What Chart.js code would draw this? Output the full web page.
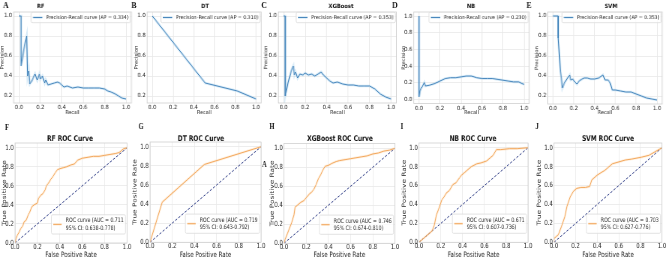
<!DOCTYPE html>
<html>
<head>
<meta charset="utf-8">
<script src="https://cdn.jsdelivr.net/npm/chart.js@4.4.1/dist/chart.umd.min.js"></script>
<style>
  html, body { margin: 0; padding: 0; background: #fff; }
  #fig { position: relative; width: 669px; height: 257px; overflow: hidden; background: #fff; }
  #fig canvas { position: absolute; left: 0; top: 0; transform-origin: 0 0; }
</style>
</head>
<body>
<div id="fig"></div>
<script>
// ---- values ----
const models = ['RF', 'DT', 'XGBoost', 'NB', 'SVM'];
const apScores = ['0.334', '0.310', '0.353', '0.230', '0.353'];
const aucScores = ['0.711', '0.719', '0.746', '0.671', '0.703'];
const aucCI = ['0.638-0.778', '0.643-0.792', '0.674-0.810', '0.607-0.736', '0.627-0.776'];

const unitTicks = [0, 0.2, 0.4, 0.6, 0.8, 1.0];
const prTicks = [0.2, 0.4, 0.6, 0.8, 1.0];
const chanceLine = [0, 1];

// precision-recall curves
const rfRecall     = [0, 0.02, 0.02, 0.045, 0.072, 0.081, 0.09, 0.10, 0.12, 0.15, 0.17, 0.19, 0.20, 0.22, 0.24, 0.25, 0.27, 0.30, 0.33, 0.36, 0.38, 0.40, 0.42, 0.45, 0.50, 0.55, 0.60, 0.65, 0.70, 0.75, 0.80, 0.83, 0.86, 0.90, 0.93, 0.96, 1.0];
const rfPrecision  = [1.0, 1.0, 0.50, 0.66, 0.80, 0.40, 0.45, 0.32, 0.35, 0.42, 0.36, 0.42, 0.37, 0.40, 0.33, 0.36, 0.31, 0.32, 0.33, 0.34, 0.33, 0.31, 0.29, 0.30, 0.28, 0.29, 0.28, 0.28, 0.28, 0.28, 0.27, 0.25, 0.24, 0.22, 0.20, 0.18, 0.17];
const dtRecall     = [0, 0.51, 0.82, 1.0];
const dtPrecision  = [1.0, 0.33, 0.25, 0.17];
const xgbRecall    = [0, 0.015, 0.015, 0.04, 0.07, 0.09, 0.10, 0.11, 0.13, 0.15, 0.18, 0.20, 0.23, 0.26, 0.29, 0.32, 0.35, 0.37, 0.40, 0.43, 0.46, 0.50, 0.55, 0.60, 0.65, 0.70, 0.75, 0.80, 0.85, 0.90, 0.95, 1.0];
const xgbPrecision = [1.0, 1.0, 0.20, 0.33, 0.45, 0.50, 0.41, 0.44, 0.38, 0.42, 0.41, 0.43, 0.41, 0.42, 0.40, 0.42, 0.44, 0.41, 0.38, 0.35, 0.33, 0.34, 0.32, 0.31, 0.31, 0.30, 0.30, 0.30, 0.27, 0.22, 0.19, 0.17];
const nbRecall     = [0, 0, 0.01, 0.02, 0.03, 0.05, 0.06, 0.10, 0.15, 0.20, 0.25, 0.30, 0.35, 0.40, 0.45, 0.50, 0.55, 0.60, 0.65, 0.70, 0.75, 0.80, 0.85, 0.90, 0.95, 0.98, 1.0];
const nbPrecision  = [1.0, 0.03, 0.10, 0.13, 0.15, 0.20, 0.16, 0.17, 0.19, 0.22, 0.25, 0.26, 0.26, 0.27, 0.28, 0.28, 0.26, 0.25, 0.25, 0.25, 0.24, 0.23, 0.22, 0.21, 0.21, 0.19, 0.18];
const svmRecall    = [0, 0.05, 0.05, 0.06, 0.07, 0.08, 0.09, 0.11, 0.14, 0.16, 0.17, 0.19, 0.21, 0.23, 0.25, 0.28, 0.30, 0.33, 0.36, 0.40, 0.44, 0.48, 0.50, 0.53, 0.55, 0.57, 0.60, 0.65, 0.70, 0.75, 0.80, 0.85, 0.90, 0.95, 1.0];
const svmPrecision = [1.0, 1.0, 0.78, 0.62, 0.45, 0.38, 0.28, 0.33, 0.38, 0.41, 0.36, 0.37, 0.34, 0.32, 0.35, 0.37, 0.38, 0.38, 0.37, 0.37, 0.38, 0.41, 0.36, 0.36, 0.33, 0.26, 0.26, 0.25, 0.24, 0.24, 0.22, 0.20, 0.18, 0.17, 0.16];

// ROC curves
const rfFpr  = [0, 0.01, 0.02, 0.04, 0.05, 0.07, 0.08, 0.10, 0.12, 0.13, 0.15, 0.17, 0.20, 0.21, 0.23, 0.25, 0.27, 0.28, 0.30, 0.32, 0.34, 0.36, 0.38, 0.40, 0.43, 0.46, 0.50, 0.53, 0.56, 0.60, 0.65, 0.70, 0.75, 0.80, 0.85, 0.90, 0.93, 0.95, 0.97, 1.0];
const rfTpr  = [0, 0.05, 0.08, 0.12, 0.15, 0.18, 0.22, 0.24, 0.30, 0.32, 0.38, 0.40, 0.42, 0.47, 0.50, 0.52, 0.56, 0.60, 0.63, 0.67, 0.70, 0.74, 0.77, 0.78, 0.79, 0.80, 0.82, 0.83, 0.87, 0.89, 0.90, 0.91, 0.91, 0.92, 0.93, 0.94, 0.95, 0.97, 0.99, 1.0];
const dtFpr  = [0, 0.11, 0.49, 1.0];
const dtTpr  = [0, 0.42, 0.815, 1.0];
const xgbFpr = [0, 0.01, 0.03, 0.05, 0.07, 0.09, 0.10, 0.12, 0.15, 0.18, 0.20, 0.23, 0.25, 0.27, 0.29, 0.31, 0.33, 0.35, 0.37, 0.40, 0.43, 0.47, 0.50, 0.55, 0.60, 0.65, 0.70, 0.75, 0.80, 0.85, 0.90, 0.95, 1.0];
const xgbTpr = [0, 0.04, 0.10, 0.16, 0.22, 0.30, 0.38, 0.40, 0.43, 0.45, 0.48, 0.52, 0.54, 0.57, 0.62, 0.68, 0.72, 0.77, 0.81, 0.82, 0.84, 0.86, 0.87, 0.88, 0.89, 0.90, 0.91, 0.92, 0.94, 0.95, 0.97, 0.98, 1.0];
const nbFpr  = [0, 0.03, 0.06, 0.09, 0.12, 0.14, 0.16, 0.18, 0.21, 0.23, 0.25, 0.28, 0.31, 0.34, 0.37, 0.39, 0.42, 0.44, 0.48, 0.53, 0.57, 0.62, 0.65, 0.68, 0.71, 0.75, 0.83, 0.90, 1.0];
const nbTpr  = [0, 0.03, 0.06, 0.09, 0.12, 0.18, 0.29, 0.35, 0.45, 0.48, 0.52, 0.55, 0.61, 0.63, 0.68, 0.71, 0.74, 0.76, 0.80, 0.83, 0.84, 0.86, 0.89, 0.92, 0.98, 0.98, 0.99, 0.99, 1.0];
const svmFpr = [0, 0, 0.02, 0.04, 0.07, 0.10, 0.12, 0.15, 0.18, 0.21, 0.25, 0.29, 0.33, 0.35, 0.40, 0.44, 0.47, 0.50, 0.54, 0.60, 0.66, 0.72, 0.81, 0.88, 0.94, 1.0];
const svmTpr = [0, 0.04, 0.06, 0.08, 0.17, 0.27, 0.38, 0.48, 0.54, 0.57, 0.58, 0.58, 0.59, 0.66, 0.71, 0.74, 0.76, 0.79, 0.83, 0.85, 0.87, 0.88, 0.90, 0.92, 0.96, 1.0];

const prSeries = [[rfRecall, rfPrecision], [dtRecall, dtPrecision], [xgbRecall, xgbPrecision], [nbRecall, nbPrecision], [svmRecall, svmPrecision]];
const rocSeries = [[rfFpr, rfTpr], [dtFpr, dtTpr], [xgbFpr, xgbTpr], [nbFpr, nbTpr], [svmFpr, svmTpr]];

// ---- layout (page pixels) ----
const FIG_W = 669, CANVAS_H = 266;
const FONT = '"DejaVu Sans", sans-serif';
const TXT = '#262626';

// the panels in the source are squeezed sideways, so each row is drawn wide and scaled in x
const TOP = { s: 0.9, tickSize: 5.7, labSize: 5.4, titleSize: 5.8, legendSize: 5.2, letterSize: 8.5,
  titleY: 6.7, xLabY: 113, tickPadX: 1.3, tickPadY: 1.5, inset: [1, 0.3], corner: 'tr', handle: 2, gap: 0.8, spacing: 1.2,
  xTitle: 'Recall', yTitle: 'Precision', line: '#4a88bd', band: 'rgba(130,190,230,0.3)', chance: false };
const BOTTOM = { s: 0.75, tickSize: 7.2, labSize: 7.4, titleSize: 7.9, legendSize: 6.2, letterSize: 8.5,
  titleY: 139, xLabY: 255, tickPadX: 0, tickPadY: 1.2, inset: [1.5, 9], corner: 'br', handle: 1.8, gap: 0.9, spacing: 1.15,
  xTitle: 'False Positive Rate', yTitle: 'True Positive Rate', line: '#f3a85e', band: 'rgba(250,195,130,0.25)', chance: true };

const topPanels = [
  { box: [13.6, 12, 131.4, 103], yRange: [0.13, 1.04], yTicks: prTicks, yLabX: 2.7, titleX: 40.7, letter: ['A', 6, 6] },
  { box: [147.1, 12, 261.2, 103], yRange: [0.13, 1.04], yTicks: prTicks, yLabX: 136.7, titleX: 205, letter: ['B', 134, 6] },
  { box: [278.3, 12, 396.4, 103], yRange: [0.13, 1.04], yTicks: prTicks, yLabX: 265.7, titleX: 341, letter: ['C', 264, 6] },
  { box: [413.75, 12, 529.25, 103.5], yRange: [-0.05, 1.05], yTicks: unitTicks, yLabX: 403.3, titleX: 471, letter: ['D', 395, 6] },
  { box: [547.8, 12, 662.2, 104], yRange: [0.12, 1.04], yTicks: prTicks, yLabX: 536.7, titleX: 611, letter: ['E', 529, 6] }
];
const bottomPanels = [
  { box: [15, 143, 127, 243], yLabX: 4.7, titleX: 70, letter: ['F', 7, 128] },
  { box: [150, 142, 261, 242.3], yLabX: 135, titleX: 201, letter: ['G', 141, 127] },
  { box: [284, 143.5, 395, 243.3], yLabX: 272, titleX: 340, letter: ['H', 272, 127], extra: ['A', 264.5, 165] },
  { box: [419, 143, 528, 242.3], yLabX: 404, titleX: 473, letter: ['I', 402, 127] },
  { box: [554, 143, 662, 242.3], yLabX: 539, titleX: 608, letter: ['J', 537, 127] }
];

const fig = document.getElementById('fig');

function drawLegend(ctx, a, lg, s) {
  const fs = lg.size;
  ctx.font = fs + 'px ' + FONT;
  const tw = Math.max(...lg.lines.map(t => ctx.measureText(t).width));
  const bp = 0.4 * fs, hl = lg.handle * fs, gap = lg.gap * fs, lh = lg.spacing * fs;
  const w = 2 * bp + hl + gap + tw, h = 2 * bp + lg.lines.length * lh;
  const x = a.right - lg.inset[0] / s - w;
  const y = lg.corner === 'tr' ? a.top + lg.inset[1] : a.bottom - lg.inset[1] - h;
  ctx.fillStyle = 'rgba(255,255,255,0.8)';
  ctx.strokeStyle = '#dadada';
  ctx.lineWidth = 0.8;
  ctx.beginPath();
  if (ctx.roundRect) ctx.roundRect(x, y, w, h, 1.5); else ctx.rect(x, y, w, h);
  ctx.fill();
  ctx.stroke();
  const cy = y + h / 2;
  [[lg.band, 2.6], [lg.line, 1]].forEach(([c, lw]) => {
    ctx.strokeStyle = c;
    ctx.lineWidth = lw;
    ctx.beginPath();
    ctx.moveTo(x + bp, cy);
    ctx.lineTo(x + bp + hl, cy);
    ctx.stroke();
  });
  ctx.fillStyle = TXT;
  ctx.textAlign = 'left';
  ctx.textBaseline = 'middle';
  lg.lines.forEach((t, i) => ctx.fillText(t, x + bp + hl + gap, y + bp + lh * (i + 0.5)));
}

const decor = {
  id: 'decor',
  afterDatasetsDraw(chart, args, o) {
    const { ctx, chartArea: a } = chart;
    ctx.save();
    ctx.strokeStyle = '#d0d0d0';
    ctx.lineWidth = 0.8;
    ctx.strokeRect(a.left, a.top, a.right - a.left, a.bottom - a.top);
    drawLegend(ctx, a, o.legend, o.s);
    ctx.restore();
  },
  afterDraw(chart, args, o) {
    const ctx = chart.ctx;
    ctx.save();
    ctx.fillStyle = '#111';
    ctx.textAlign = 'center';
    ctx.textBaseline = 'middle';
    o.texts.forEach(t => {
      ctx.font = t.font;
      ctx.fillText(t.text, t.x / o.s, t.y);
    });
    ctx.restore();
  }
};

function buildPanel(row, p, xs, ys, title, legendLines, xRange, yRange, yTicks) {
  const s = row.s;
  const cw = Math.ceil(FIG_W / s);
  const canvas = document.createElement('canvas');
  canvas.width = cw;
  canvas.height = CANVAS_H;
  canvas.style.width = cw + 'px';
  canvas.style.height = CANVAS_H + 'px';
  canvas.style.transform = 'scaleX(' + s + ')';
  fig.appendChild(canvas);

  const [l, t, r, b] = p.box;
  const axisLeft = p.yLabX / s - row.labSize / 2;
  const xAxisBottom = row.xLabY + row.labSize / 2;

  const pts = xs.map((v, i) => ({ x: v, y: ys[i] }));
  const datasets = [
    { label: legendLines.join(' '), data: pts, borderColor: row.line, borderWidth: 1, pointRadius: 0, tension: 0 },
    { data: pts, borderColor: row.band, borderWidth: 2.6, pointRadius: 0, tension: 0 }
  ];
  if (row.chance) {
    datasets.push({ data: chanceLine.map(v => ({ x: v, y: v })), borderColor: '#1b2a7a', borderDash: [3, 2],
      borderWidth: 0.9, pointRadius: 0, tension: 0 });
  }

  const tickFont = { family: FONT, size: row.tickSize };
  const labFont = { family: FONT, size: row.labSize, lineHeight: 1 };
  const grid = { color: '#e8e8e8', lineWidth: 0.8, drawTicks: false };
  const letterFont = 'bold ' + row.letterSize + 'px "Liberation Serif", serif';
  const texts = [
    { text: title, x: p.titleX, y: row.titleY, font: 'bold ' + row.titleSize + 'px ' + FONT },
    { text: p.letter[0], x: p.letter[1], y: p.letter[2], font: letterFont }
  ];
  if (p.extra) texts.push({ text: p.extra[0], x: p.extra[1], y: p.extra[2], font: letterFont });

  new Chart(canvas, {
    type: 'line',
    data: { datasets },
    options: {
      responsive: false,
      animation: false,
      devicePixelRatio: 1,
      events: [],
      layout: { padding: { left: axisLeft, top: t, right: cw - r / s, bottom: CANVAS_H - xAxisBottom } },
      plugins: {
        legend: { display: false },
        tooltip: { enabled: false },
        decor: {
          s,
          texts,
          legend: { lines: legendLines, size: row.legendSize, inset: row.inset, corner: row.corner,
            handle: row.handle, gap: row.gap, spacing: row.spacing, line: row.line, band: row.band }
        }
      },
      scales: {
        x: {
          type: 'linear', min: xRange[0], max: xRange[1],
          afterBuildTicks: sc => { sc.ticks = unitTicks.map(v => ({ value: v })); },
          afterFit: sc => { sc.height = xAxisBottom - b; },
          grid, border: { display: false },
          ticks: { font: tickFont, color: TXT, padding: row.tickPadX, maxRotation: 0, autoSkip: false, callback: v => v.toFixed(1) },
          title: { display: true, text: row.xTitle, font: labFont, color: TXT, padding: 0 }
        },
        y: {
          type: 'linear', min: yRange[0], max: yRange[1],
          afterBuildTicks: sc => { sc.ticks = yTicks.map(v => ({ value: v })); },
          afterFit: sc => { sc.width = l / s - axisLeft; },
          grid, border: { display: false },
          ticks: { font: tickFont, color: TXT, padding: row.tickPadY / s, autoSkip: false, callback: v => v.toFixed(1) },
          title: { display: true, text: row.yTitle, font: labFont, color: TXT, padding: 0 }
        }
      }
    },
    plugins: [decor]
  });
}

topPanels.forEach((p, i) => {
  buildPanel(TOP, p, prSeries[i][0], prSeries[i][1], models[i],
    ['Precision-Recall curve (AP = ' + apScores[i] + ')'], [-0.05, 1.05], p.yRange, p.yTicks);
});
bottomPanels.forEach((p, i) => {
  buildPanel(BOTTOM, p, rocSeries[i][0], rocSeries[i][1], models[i] + ' ROC Curve',
    ['ROC curve (AUC = ' + aucScores[i], '95% CI: ' + aucCI[i] + ')'], [0, 1], [0, 1.05], unitTicks);
});
</script>
</body>
</html>
